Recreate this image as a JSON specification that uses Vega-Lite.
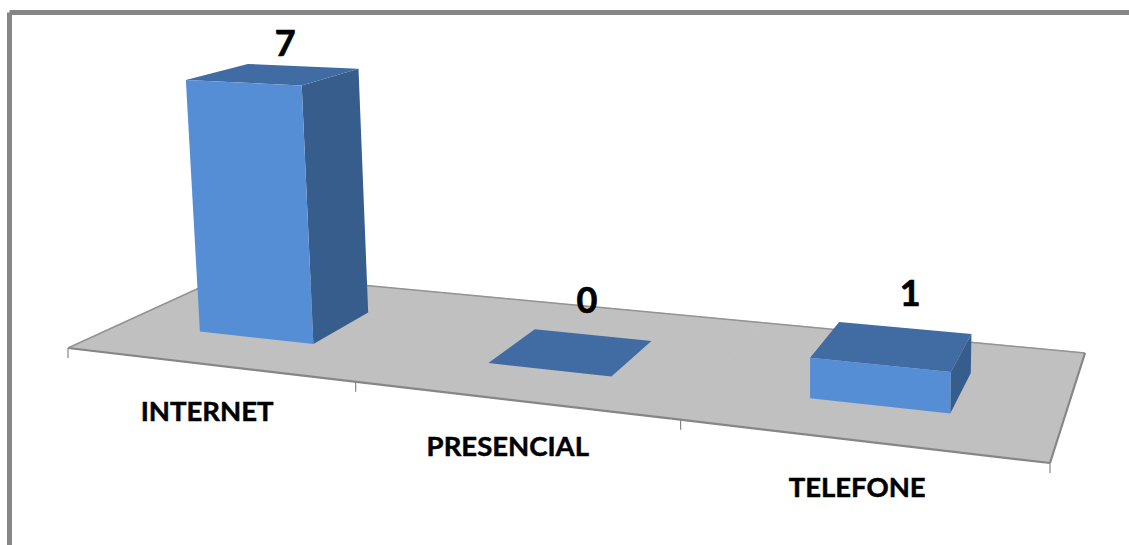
{
"$schema":"https://vega.github.io/schema/vega-lite/v6.json",
"width":1120,"height":533,"autosize":"none",
"padding":{"left":9,"top":12,"right":0,"bottom":0},
"background":"white",
"config":{"view":{"stroke":null}},
"data":{"values":[{"category":"INTERNET","value":7},{"category":"PRESENCIAL","value":0},{"category":"TELEFONE","value":1}]},
"transform":[
{"calculate":"indexof(['INTERNET','PRESENCIAL','TELEFONE'],datum.category)","as":"i"},
{"calculate":"['floor','side','top','front']","as":"face"},
{"flatten":["face"]},
{"calculate":"[0,1,2,3]","as":"corner"},
{"flatten":["corner"]},
{"calculate":"datum.face=='floor'?datum.i/3:(datum.i+0.5)/3-0.0625+[-0.004,0.004,0.001][datum.i]","as":"uL"},
{"calculate":"datum.face=='floor'?(datum.i+1)/3:datum.uL+[0.14,0.132,0.13][datum.i]","as":"uR"},
{"calculate":"datum.face=='floor'?0:0.3","as":"vF"},
{"calculate":"datum.face=='floor'?1:0.685","as":"vB"},
{"calculate":"datum.face=='side'||datum.corner==1||datum.corner==2?datum.uR:datum.uL","as":"u"},
{"calculate":"datum.face=='front'?datum.vF:datum.face=='side'?(datum.corner==1||datum.corner==2?datum.vB:datum.vF):(datum.corner>=2?datum.vB:datum.vF)","as":"v"},
{"calculate":"datum.face=='floor'?0:datum.face=='top'?datum.value:(datum.corner>=2?datum.value:0)","as":"z"},
{"calculate":"1-0.2022*datum.u+0.1595*datum.v-0.0034*datum.z","as":"w"},
{"calculate":"(769.7*datum.u+201*datum.v+68-2.69*datum.z)/datum.w","as":"sx"},
{"calculate":"(21.4*datum.u-31.5*datum.v+348-37.2*datum.z)/datum.w","as":"sy"}
],
"encoding":{
"x":{"field":"sx","type":"quantitative","scale":{"domain":[9,1129],"nice":false,"zero":false},"axis":{"orient":"top","title":null,"labels":false,"ticks":false,"grid":false,"domain":true,"domainColor":"#868686","domainWidth":5}},
"y":{"field":"sy","type":"quantitative","scale":{"domain":[545,12],"nice":false,"zero":false},"axis":{"orient":"left","title":null,"labels":false,"ticks":false,"grid":false,"domain":true,"domainColor":"#868686","domainWidth":5}}
},
"layer":[
{"transform":[{"filter":"datum.face=='floor'"}],
 "mark":{"type":"line","interpolate":"linear-closed","fill":"#C0C0C0","stroke":"#C0C0C0","strokeWidth":1},
 "encoding":{"detail":{"field":"category"},"order":{"field":"corner"}}},
{"transform":[{"filter":"datum.face=='floor'&&datum.corner>=2"}],
 "mark":{"type":"line","stroke":"#939393","strokeWidth":1.5},
 "encoding":{"detail":{"field":"category"},"order":{"field":"corner"}}},
{"transform":[{"filter":"datum.face=='floor'&&datum.corner<=1"}],
 "mark":{"type":"line","stroke":"#868686","strokeWidth":2.2},
 "encoding":{"detail":{"field":"category"},"order":{"field":"corner"}}},
{"transform":[{"filter":"datum.face=='floor'&&datum.i==0&&(datum.corner==0||datum.corner==3)"}],
 "mark":{"type":"line","stroke":"#939393","strokeWidth":1.5},
 "encoding":{"order":{"field":"corner"}}},
{"transform":[{"filter":"datum.face=='floor'&&datum.i==2&&(datum.corner==1||datum.corner==2)"}],
 "mark":{"type":"line","stroke":"#868686","strokeWidth":2.2},
 "encoding":{"order":{"field":"corner"}}},
{"transform":[{"filter":"datum.face=='floor'&&(datum.corner==0||(datum.i==2&&datum.corner==1))"},
 {"calculate":"datum.corner==1?1:datum.i==0?0:datum.i/3+0.0085","as":"tu"},
 {"calculate":"1-0.2022*datum.tu","as":"tw"},
 {"calculate":"(769.7*datum.tu+68)/datum.tw","as":"tx"},
 {"calculate":"(21.4*datum.tu+348)/datum.tw","as":"ty"},
 {"calculate":"datum.ty+10","as":"ty2"}],
 "mark":{"type":"rule","stroke":"#868686","strokeWidth":1.2},
 "encoding":{"x":{"field":"tx","type":"quantitative"},"y":{"field":"ty","type":"quantitative"},"y2":{"field":"ty2"}}},
{"transform":[{"filter":"datum.face=='side'"}],
 "mark":{"type":"line","interpolate":"linear-closed","fill":"#375D8C","stroke":null},
 "encoding":{"detail":{"field":"category"},"order":{"field":"corner"}}},
{"transform":[{"filter":"datum.face=='top'"}],
 "mark":{"type":"line","interpolate":"linear-closed","fill":"#406BA3","stroke":null},
 "encoding":{"detail":{"field":"category"},"order":{"field":"corner"}}},
{"transform":[{"filter":"datum.face=='front'"}],
 "mark":{"type":"line","interpolate":"linear-closed","fill":"#558ED5","stroke":null},
 "encoding":{"detail":{"field":"category"},"order":{"field":"corner"}}},
{"transform":[{"filter":"datum.face=='top'&&datum.corner==0"},
 {"calculate":"(datum.i+0.5)/3+0.02+(datum.i==1?0.006:0)","as":"lu"},
 {"calculate":"datum.value*0.92+1.38","as":"lz"},
 {"calculate":"1-0.2022*datum.lu+0.1595*0.49-0.0034*datum.lz","as":"lw"},
 {"calculate":"(769.7*datum.lu+201*0.49+68-2.69*datum.lz)/datum.lw","as":"lx"},
 {"calculate":"(21.4*datum.lu-31.5*0.49+348-37.2*datum.lz)/datum.lw","as":"ly"}],
 "mark":{"type":"text","font":"Lato","fontWeight":"bold","fontSize":36,"color":"black","stroke":"black","strokeWidth":0.7,"baseline":"middle","align":"center"},
 "encoding":{"x":{"field":"lx","type":"quantitative"},"y":{"field":"ly","type":"quantitative"},"text":{"field":"value","type":"quantitative"}}},
{"transform":[{"filter":"datum.face=='floor'&&datum.corner==0"},
 {"calculate":"(datum.i+0.5)/3","as":"lu"},
 {"calculate":"1-0.2022*datum.lu","as":"lw"},
 {"calculate":"(769.7*datum.lu+68)/datum.lw","as":"lx"},
 {"calculate":"(21.4*datum.lu+348)/datum.lw","as":"ly"}],
 "mark":{"type":"text","font":"Lato","fontWeight":"bold","fontSize":27.5,"color":"black","stroke":"black","strokeWidth":0.5,"baseline":"middle","align":"center","dx":4,"dy":49},
 "encoding":{"x":{"field":"lx","type":"quantitative"},"y":{"field":"ly","type":"quantitative"},"text":{"field":"category","type":"nominal"}}}
]
}
